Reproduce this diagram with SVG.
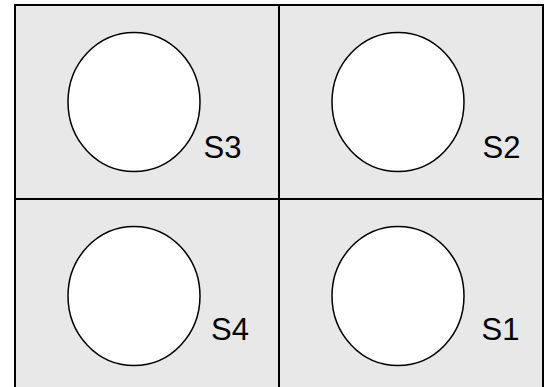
<svg xmlns="http://www.w3.org/2000/svg" width="546" height="387" viewBox="0 0 546 387">
<style>
.cell{fill:#e8e8e8;stroke:#000;stroke-width:2}
.ring{fill:#fff;stroke:#000;stroke-width:1.5}
.lbl{font-family:"Liberation Sans",Arial,sans-serif;font-size:31px;fill:#000}
</style>
<rect x="0" y="0" width="546" height="387" fill="#fff"/>
<g id="S3">
<rect class="cell" x="15" y="5" width="264" height="194"/>
<ellipse class="ring" cx="134" cy="102" rx="66" ry="69.5"/>
<text class="lbl" x="203.5" y="157.5">S3</text>
</g>
<g id="S2">
<rect class="cell" x="279" y="5" width="264" height="194"/>
<ellipse class="ring" cx="398" cy="102" rx="66" ry="69.5"/>
<text class="lbl" x="482.5" y="157.5">S2</text>
</g>
<g id="S4">
<rect class="cell" x="15" y="199" width="264" height="200"/>
<ellipse class="ring" cx="134" cy="296" rx="66" ry="69.5"/>
<text class="lbl" x="211" y="340">S4</text>
</g>
<g id="S1">
<rect class="cell" x="279" y="199" width="264" height="200"/>
<ellipse class="ring" cx="398" cy="296" rx="66" ry="69.5"/>
<text class="lbl" x="481.5" y="340">S1</text>
</g>
<g id="connectors"></g>
</svg>
